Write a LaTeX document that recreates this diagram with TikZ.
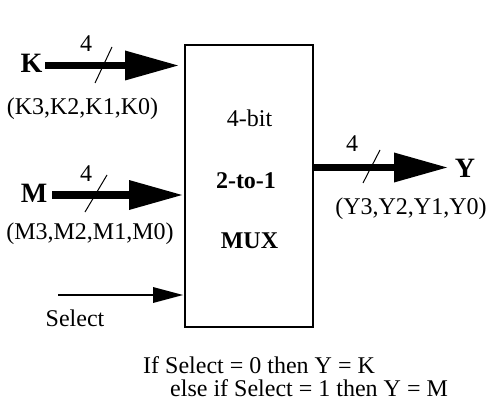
\documentclass[tikz,border=0pt]{standalone}
\usepackage{fontspec}
\setmainfont{Liberation Serif}
\usetikzlibrary{arrows.meta}
\tikzset{
  txt/.style={inner sep=0pt, font=\fontsize{24}{28}\selectfont},
  big/.style={inner sep=0pt, font=\fontsize{28}{32}\selectfont\bfseries},
  bus/.style={line width=7.5pt, -{Triangle[length=53pt,width=30pt,line width=0pt]}},
  wire/.style={line width=1.8pt, -{Triangle[length=30pt,width=16pt,line width=0pt]}},
  slash/.style={line width=1pt},
  muxbox/.style={draw, line width=2pt, minimum width=128pt, minimum height=282pt, inner sep=0pt}
}
\begin{document}
\begin{tikzpicture}[x=1pt,y=-1pt]
\useasboundingbox (0,0) rectangle (488,404);
% box
\node[muxbox] (mux) at (249,186) {};
\node[txt, anchor=base] (t1) at (249.5,127) {4-bit};
\node[txt, anchor=base, font=\fontsize{24}{28}\selectfont\bfseries] (t2) at (246,188) {2-to-1};
\node[txt, anchor=base, font=\fontsize{24}{28}\selectfont\bfseries] (t3) at (249.5,248) {MUX};
% K input
\node[big, anchor=base] (K) at (31.5,73) {K};
\coordinate (ks) at (45,65.5);
\coordinate (ke) at (178,65.5);
\draw[bus] (ks) -- (ke);
\coordinate (ka) at (95,83); \coordinate (kb) at (112,47);
\draw[slash] (ka) -- (kb);
\node[txt, anchor=base] (k4) at (86,52) {4};
\node[txt, anchor=base] (kbits) at (82.5,114) {(K3,K2,K1,K0)};
% M input
\node[big, anchor=base] (M) at (34,202) {M};
\coordinate (ms) at (52,195);
\coordinate (me) at (182,195);
\draw[bus] (ms) -- (me);
\coordinate (ma) at (85,212); \coordinate (mb) at (107,175);
\draw[slash] (ma) -- (mb);
\node[txt, anchor=base] (m4) at (86,182) {4};
\node[txt, anchor=base] (mbits) at (90,239) {(M3,M2,M1,M0)};
% Select
\coordinate (ss) at (58,295);
\coordinate (se) at (183,295);
\draw[wire] (ss) -- (se);
\node[txt, anchor=base] (sel) at (75,326) {Select};
% Y output
\coordinate (ys) at (313,167.5);
\coordinate (ye) at (447,167.5);
\draw[bus] (ys) -- (ye);
\coordinate (ya) at (363,183); \coordinate (yb) at (380,150);
\draw[slash] (ya) -- (yb);
\node[txt, anchor=base] (y4) at (352,151) {4};
\node[big, anchor=base] (Y) at (465,177) {Y};
\node[txt, anchor=base] (ybits) at (411,214) {(Y3,Y2,Y1,Y0)};
% condition text
\node[txt, anchor=base west] (c1) at (143,373) {If Select = 0 then Y = K};
\node[txt, anchor=base west] (c2) at (170,396) {else if Select = 1 then Y = M};
\end{tikzpicture}
\end{document}
